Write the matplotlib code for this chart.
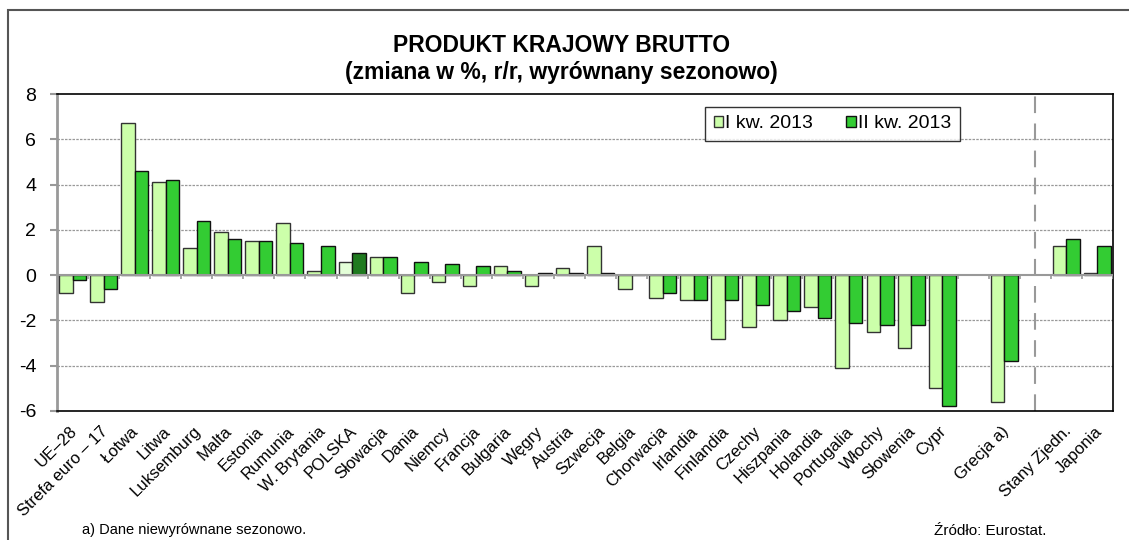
import numpy as np
import matplotlib
matplotlib.use('Agg')
import matplotlib.pyplot as plt
from matplotlib.patches import Rectangle
from matplotlib.transforms import ScaledTranslation

plt.rcParams['font.family'] = ['Liberation Sans', 'DejaVu Sans']
plt.rcParams['axes.unicode_minus'] = False

# '' = empty slot on the axis
countries = ['UE–28', 'Strefa euro – 17', 'Łotwa', 'Litwa', 'Luksemburg', 'Malta',
             'Estonia', 'Rumunia', 'W. Brytania', 'POLSKA', 'Słowacja', 'Dania',
             'Niemcy', 'Francja', 'Bułgaria', 'Węgry', 'Austria', 'Szwecja', 'Belgia',
             'Chorwacja', 'Irlandia', 'Finlandia', 'Czechy', 'Hiszpania', 'Holandia',
             'Portugalia', 'Włochy', 'Słowenia', 'Cypr', '', 'Grecja a)', '',
             'Stany Zjedn.', 'Japonia']
q1 = [-0.8, -1.2, 6.7, 4.1, 1.2, 1.9, 1.5, 2.3, 0.2, 0.6, 0.8, -0.8, -0.3, -0.5, 0.4,
      -0.5, 0.3, 1.3, -0.6, -1.0, -1.1, -2.8, -2.3, -2.0, -1.4, -4.1, -2.5, -3.2, -5.0,
      np.nan, -5.6, np.nan, 1.3, 0.1]
q2 = [-0.2, -0.6, 4.6, 4.2, 2.4, 1.6, 1.5, 1.4, 1.3, 1.0, 0.8, 0.6, 0.5, 0.4, 0.2,
      0.1, 0.1, 0.1, 0.0, -0.8, -1.1, -1.1, -1.3, -1.6, -1.9, -2.1, -2.2, -2.2, -5.8,
      np.nan, -3.8, np.nan, 1.6, 1.3]
series = ['I kw. 2013', 'II kw. 2013']

light = '#CCFFAA'
green = '#33CC33'
x = np.arange(len(countries))
w = 0.435

fig = plt.figure(figsize=(11.29, 5.40), dpi=100)
ax = fig.add_axes([0.0505, 0.2389, 0.9353, 0.587])

c1 = [('#E4FFD8' if c == 'POLSKA' else light) for c in countries]
c2 = [('#1F7A1F' if c == 'POLSKA' else green) for c in countries]
ax.bar(x - w / 2, q1, w, color=c1, edgecolor='#333333', linewidth=1, label=series[0], zorder=3)
ax.bar(x + w / 2, q2, w, color=c2, edgecolor='#111111', linewidth=1, label=series[1], zorder=3)

ax.set_xlim(-0.5, len(countries) - 0.5)
ax.set_ylim(-6, 8)
ax.set_yticks(range(-6, 9, 2))
for yv in [-4, -2, 2, 4, 6]:
    ax.axhline(yv, color='#999999', lw=0.9, ls=(0, (2, 1)), zorder=1)
ax.axhline(0, color='#999999', lw=1.5, zorder=4)
ax.vlines(np.arange(len(countries) + 1) - 0.5, -0.18, 0, color='#999999', lw=1.2, zorder=4)
ax.axvline(31, color='#999999', lw=1.5, ls=(0, (8, 5)), zorder=2)

ax.set_xticks(x)
ax.set_xticklabels(countries, rotation=45, ha='right', va='center',
                   rotation_mode='anchor', fontsize=12)
ax.tick_params(axis='x', length=0, pad=13)
shift = ScaledTranslation(2 / 100, 0, fig.dpi_scale_trans)
for lab in ax.get_xticklabels():
    lab.set_transform(lab.get_transform() + shift)
ax.tick_params(axis='y', labelsize=14, length=5, color='#999999', width=1.5, pad=10)
for s in ['top', 'right', 'bottom']:
    ax.spines[s].set_color('black')
    ax.spines[s].set_linewidth(1.2)
ax.spines['left'].set_color('#999999')
ax.spines['left'].set_linewidth(2)

leg = ax.legend(loc='upper right', bbox_to_anchor=(0.855, 0.96), ncol=2, fontsize=14,
                frameon=True, fancybox=False, handlelength=0.5, handleheight=0.5,
                handletextpad=0.1, columnspacing=1.7, borderpad=0.45, borderaxespad=0)
leg.get_frame().set_edgecolor('black')
leg.get_frame().set_linewidth(1)

fig.text(0.497, 0.915, 'PRODUKT KRAJOWY BRUTTO', ha='center', va='center',
         fontsize=16.5, fontweight='bold')
fig.text(0.497, 0.865, '(zmiana w %, r/r, wyrównany sezonowo)', ha='center', va='center',
         fontsize=16.5, fontweight='bold')
fig.text(0.073, 0.018, 'a) Dane niewyrównane sezonowo.', ha='left', va='center', fontsize=10.5)
fig.text(0.827, 0.016, 'Źródło: Eurostat.', ha='left', va='center', fontsize=11)

fig.patches.append(Rectangle((8 / 1129, -0.1), 1.2, 1.1 - 10 / 540,
                             transform=fig.transFigure, fill=False,
                             edgecolor='#555555', lw=1.5))

fig.savefig('out.png', dpi=100)
